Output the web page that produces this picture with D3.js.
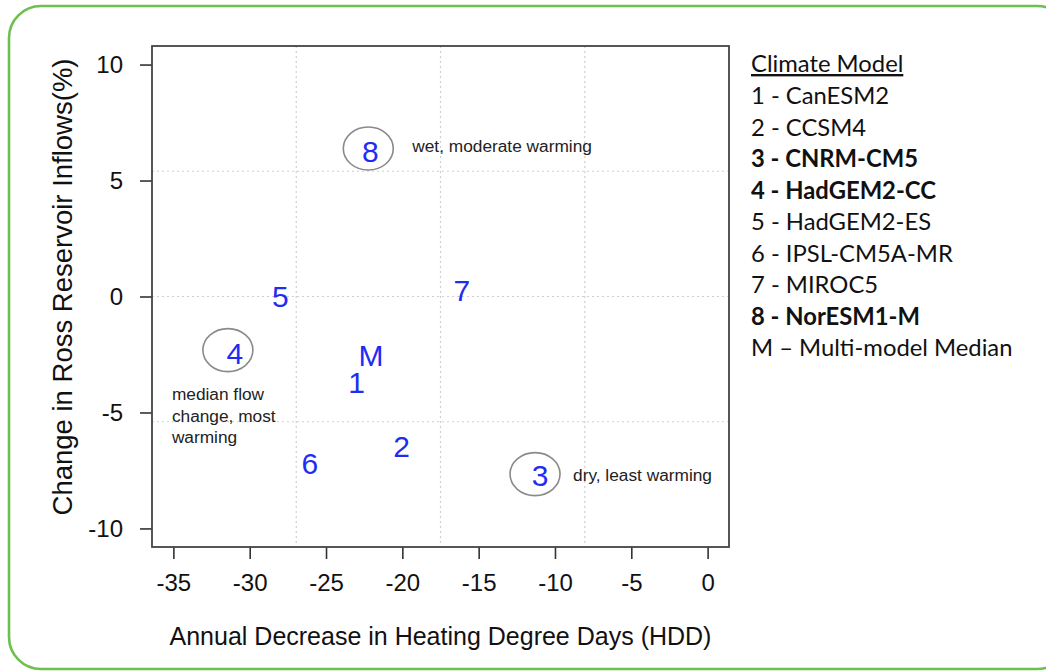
<!DOCTYPE html>
<html>
<head>
<meta charset="utf-8">
<script src="https://cdn.jsdelivr.net/npm/d3@7"></script>
<style>
  html, body { margin: 0; padding: 0; background: #fff; }
  svg { display: block; }
</style>
</head>
<body>
<svg id="chart" width="1046" height="671"></svg>
<script>
// Climate model projections: HDD change vs. reservoir inflow change
const modelIds   = ["1", "2", "3", "4", "5", "6", "7", "8", "M"];
const hddChange  = [-23.0, -20.05, -10.98, -30.97, -28.0, -26.06, -16.1, -22.1, -22.06];
const flowChange = [-3.71, -6.48, -7.70, -2.44, 0.0, -7.19, 0.24, 6.25, -2.54];

const xTicks = [-35, -30, -25, -20, -15, -10, -5, 0];
const yTicks = [-10, -5, 0, 5, 10];

// Highlighted models with their notes
const highlightIds   = ["8", "3", "4"];
const highlightNotes = [["wet, moderate warming"], ["dry, least warming"], ["median flow", "change, most", "warming"]];

const legendTitle = "Climate Model";
const legendItems = ["1 - CanESM2", "2 - CCSM4", "3 - CNRM-CM5", "4 - HadGEM2-CC", "5 - HadGEM2-ES",
                     "6 - IPSL-CM5A-MR", "7 - MIROC5", "8 - NorESM1-M", "M \u2013 Multi-model Median"];
const legendBold  = [false, false, true, true, false, false, false, true, false];

const svg = d3.select("#chart");
const FONT = "'Liberation Sans', Arial, Helvetica, sans-serif";

// Outer rounded frame
svg.append("rect")
  .attr("x", 9).attr("y", 6).attr("width", 1060).attr("height", 663)
  .attr("rx", 32).attr("ry", 32)
  .attr("fill", "none").attr("stroke", "#6dbf4e").attr("stroke-width", 2.6);

const plot = { left: 152, right: 729, top: 46, bottom: 547 };

// Axis ranges padded 4% beyond the data limits
const x = d3.scaleLinear().domain([-36.4, 1.4]).range([plot.left, plot.right]);
const y = d3.scaleLinear().domain([-10.8, 10.8]).range([plot.bottom, plot.top]);

// Dotted grid dividing each axis into four equal parts
const xGrid = d3.range(1, 4).map(i => -36.4 + i * (37.8 / 4));
const yGrid = d3.range(1, 4).map(i => -10.8 + i * (21.6 / 4));
const grid = svg.append("g").attr("stroke", "#cfcfcf").attr("stroke-width", 1.2)
  .attr("stroke-dasharray", "2,3");
grid.selectAll("line.v").data(xGrid).join("line").attr("class", "v")
  .attr("x1", d => x(d)).attr("x2", d => x(d)).attr("y1", plot.top).attr("y2", plot.bottom);
grid.selectAll("line.h").data(yGrid).join("line").attr("class", "h")
  .attr("y1", d => y(d)).attr("y2", d => y(d)).attr("x1", plot.left).attr("x2", plot.right);

// Axes (plain hyphen for negative numbers)
const fmt = d => String(d);
const xAxis = svg.append("g").attr("transform", `translate(0,${plot.bottom})`)
  .call(d3.axisBottom(x).tickValues(xTicks).tickFormat(fmt).tickSize(12).tickPadding(15).tickSizeOuter(0));
const yAxis = svg.append("g").attr("transform", `translate(${plot.left},0)`)
  .call(d3.axisLeft(y).tickValues(yTicks).tickFormat(fmt).tickSize(12).tickPadding(17).tickSizeOuter(0));
[xAxis, yAxis].forEach(g => {
  g.select(".domain").remove();
  g.selectAll(".tick line").attr("stroke", "#333").attr("stroke-width", 1.6);
  g.selectAll(".tick text").attr("fill", "#111").style("font-family", FONT).style("font-size", "24px");
});

// Plot frame
svg.append("rect")
  .attr("x", plot.left).attr("y", plot.top)
  .attr("width", plot.right - plot.left).attr("height", plot.bottom - plot.top)
  .attr("fill", "none").attr("stroke", "#444").attr("stroke-width", 1.8);

// Axis titles
svg.append("text")
  .attr("x", (plot.left + plot.right) / 2).attr("y", 645)
  .attr("text-anchor", "middle").attr("fill", "#111")
  .style("font-family", FONT).style("font-size", "25px")
  .text("Annual Decrease in Heating Degree Days (HDD)");
svg.append("text")
  .attr("transform", `translate(72,287) rotate(-90)`)
  .attr("text-anchor", "middle").attr("fill", "#111")
  .style("font-family", FONT).style("font-size", "27.5px")
  .text("Change in Ross Reservoir Inflows(%)");

// Point records
const points = modelIds.map((id, i) => ({ id, hdd: hddChange[i], flow: flowChange[i] }));
const byId = new Map(points.map(p => [p.id, p]));

// Ellipses around highlighted models
const ring = { "8": [-2, -3], "3": [-5, -1], "4": [-7, -3] };
svg.append("g").selectAll("ellipse").data(highlightIds).join("ellipse")
  .attr("cx", d => x(byId.get(d).hdd) + ring[d][0])
  .attr("cy", d => y(byId.get(d).flow) + ring[d][1])
  .attr("rx", 25).attr("ry", 21.5)
  .attr("fill", "none").attr("stroke", "#8a8a8a").attr("stroke-width", 1.6);

// Model labels as markers
svg.append("g").selectAll("text").data(points).join("text")
  .attr("x", d => x(d.hdd)).attr("y", d => y(d.flow))
  .attr("text-anchor", "middle").attr("dominant-baseline", "central")
  .attr("fill", "#1f2cf5")
  .style("font-family", FONT).style("font-size", "30px")
  .text(d => d.id);

// Notes beside highlighted models
const noteOffset = { "8": [42, -6], "3": [33, 0], "4": [-63, 41] };
highlightIds.forEach((id, i) => {
  const p = byId.get(id);
  const o = noteOffset[id];
  const t = svg.append("text")
    .attr("x", x(p.hdd) + o[0]).attr("y", y(p.flow) + o[1])
    .attr("fill", "#222")
    .style("font-family", FONT).style("font-size", "17.3px");
  highlightNotes[i].forEach((line, j) => {
    t.append("tspan").attr("x", x(p.hdd) + o[0])
      .attr("dy", j === 0 ? "0.35em" : "1.25em").text(line);
  });
});

// Legend
const LFONT = "Lato, 'Open Sans', sans-serif";
const legend = svg.append("g").attr("transform", "translate(751,0)");
legend.append("text").attr("x", 0).attr("y", 72)
  .attr("fill", "#111").style("font-family", LFONT).style("font-size", "23.8px")
  .attr("text-decoration", "underline")
  .text(legendTitle);
legend.selectAll("text.item").data(legendItems).join("text").attr("class", "item")
  .attr("x", 0).attr("y", (d, i) => 104 + i * 31.5)
  .attr("fill", "#111").style("font-family", LFONT).style("font-size", "23.8px")
  .style("font-weight", (d, i) => legendBold[i] ? "bold" : "normal")
  .text(d => d);
</script>
</body>
</html>
